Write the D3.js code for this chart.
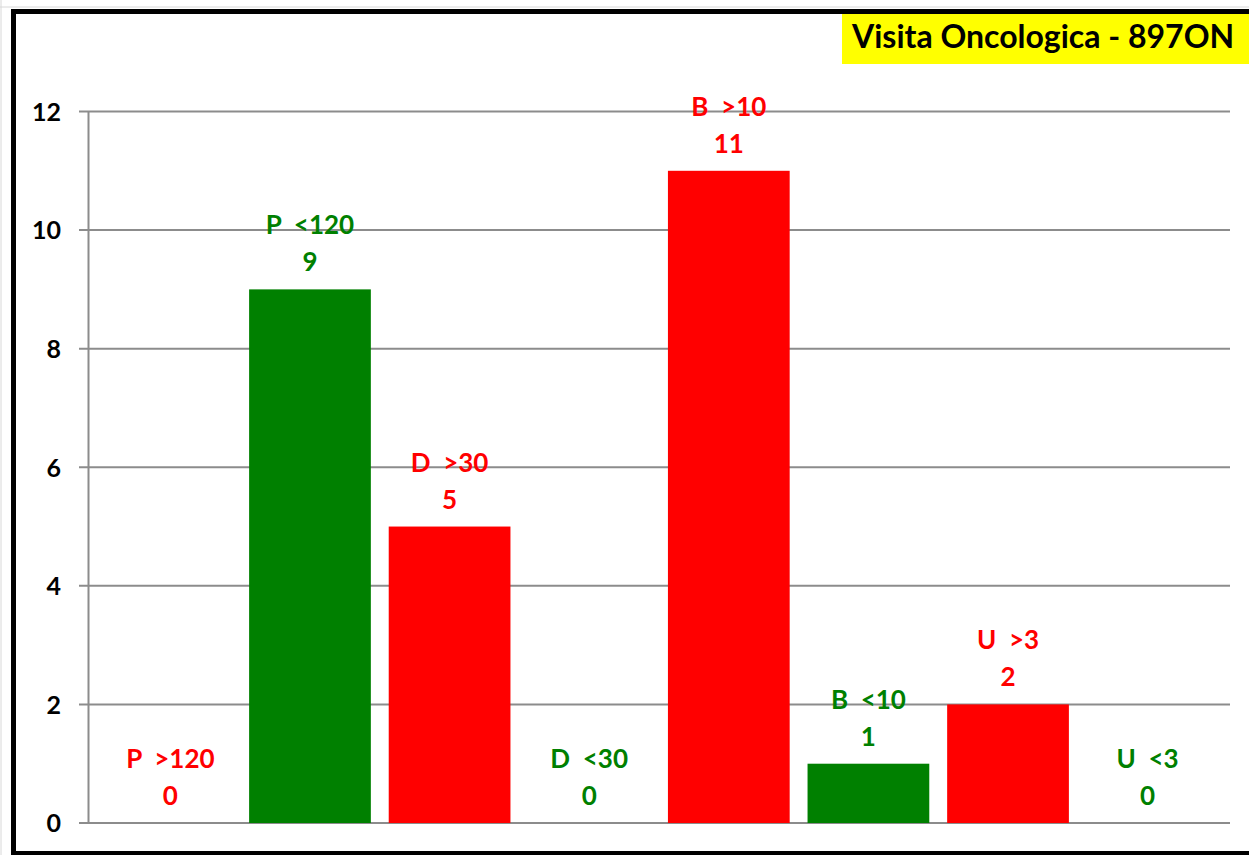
<!DOCTYPE html>
<html>
<head>
<meta charset="utf-8">
<script src="https://cdn.jsdelivr.net/npm/d3@7"></script>
<style>
  html, body { margin: 0; padding: 0; background: #fff; }
  svg { display: block; }
  text { font-family: Lato, "Open Sans", sans-serif; font-weight: bold; white-space: pre; }
</style>
</head>
<body>
<svg id="chart" width="1249" height="855"></svg>
<script>
const title = "Visita Oncologica - 897ON";
const categories = ["P  >120", "P  <120", "D  >30", "D  <30", "B  >10", "B  <10", "U  >3", "U  <3"];
const values = [0, 9, 5, 0, 11, 1, 2, 0];
const status = ["over", "under", "over", "under", "over", "under", "over", "under"];
const yTicks = [0, 2, 4, 6, 8, 10, 12];

const svg = d3.select("#chart");
const W = 1249, H = 855;

const color = d3.scaleOrdinal().domain(["over", "under"]).range(["#ff0000", "#008000"]);

const x = d3.scaleBand().domain(categories).range([88, 1230]).paddingInner(0.128).paddingOuter(0.154);
const y = d3.scaleLinear().domain([0, 12]).range([823, 111.5]);

// light spreadsheet lines outside frame
svg.append("line").attr("x1", 0).attr("x2", W).attr("y1", 7).attr("y2", 7).attr("stroke", "#d8d8d8").attr("stroke-width", 1);
svg.append("line").attr("x1", 1).attr("x2", 1).attr("y1", 0).attr("y2", H).attr("stroke", "#d8d8d8").attr("stroke-width", 1);

// frame
svg.append("rect").attr("x", 13.5).attr("y", 11.5).attr("width", 1260).attr("height", 842)
  .attr("fill", "#fff").attr("stroke", "#000").attr("stroke-width", 5);

// gridlines
svg.append("g").selectAll("line").data(yTicks).join("line")
  .attr("x1", 79).attr("x2", 1230)
  .attr("y1", d => y(d)).attr("y2", d => y(d))
  .attr("stroke", "#8c8c8c").attr("stroke-width", 2);

// y axis
const yAxis = d3.axisLeft(y).tickValues(yTicks).tickSize(0).tickPadding(27);
const gy = svg.append("g").attr("transform", "translate(88,0)").call(yAxis);
gy.select(".domain").attr("stroke", "#8c8c8c").attr("stroke-width", 2);
gy.selectAll("text").attr("font-size", 25).attr("fill", "#000")
  .attr("font-family", "Lato, 'Open Sans', sans-serif").attr("font-weight", "bold").attr("dy", "0.35em");

// bars
svg.append("g").selectAll("rect").data(values).join("rect")
  .attr("x", (d, i) => x(categories[i]))
  .attr("y", d => y(d))
  .attr("width", x.bandwidth())
  .attr("height", d => y(0) - y(d))
  .attr("fill", (d, i) => color(status[i]));

// labels
const lab = svg.append("g").selectAll("g").data(values).join("g")
  .attr("transform", (d, i) => `translate(${x(categories[i]) + x.bandwidth() / 2},${y(d)})`)
  .attr("fill", (d, i) => color(status[i]))
  .attr("font-size", 26).attr("text-anchor", "middle");
lab.append("text").attr("y", -55).text((d, i) => categories[i]);
lab.append("text").attr("y", -18).text(d => d);

// title
svg.append("rect").attr("x", 842).attr("y", 14).attr("width", 420).attr("height", 50).attr("fill", "#ffff00");
const t = svg.append("text").attr("x", 852).attr("y", 48).attr("font-size", 29).attr("fill", "#000").text(title);
const len = t.node().getComputedTextLength();
t.attr("font-size", Math.min(32, 29 * 395 / len));
</script>
</body>
</html>
